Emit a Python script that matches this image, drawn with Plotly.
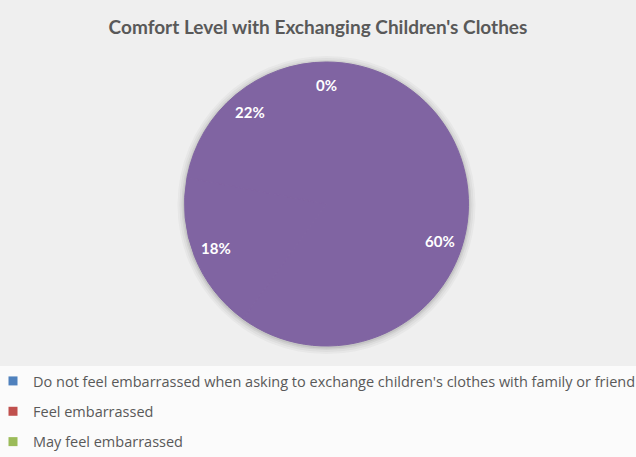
import math
import plotly.graph_objects as go

# Survey answers and their shares (percent), in the order they are drawn
categories = [
    "Do not feel embarrassed when asking to exchange children's clothes with family or friend",
    "Feel embarrassed",
    "May feel embarrassed",
    "Other",
]
shares = [60, 18, 22, 0]
legend_colors = ["#4F81BD", "#C0504D", "#9BBB59"]
slice_color = "#8064A2"

W, H = 636, 457
# pie geometry in pixels (centre and radius)
cx, cy, r = 326.5, 204, 142
label_radius = 0.84

fig = go.Figure()

fig.add_trace(go.Pie(
    labels=categories,
    values=shares,
    sort=False,
    direction="clockwise",
    rotation=0,
    textinfo="none",
    hoverinfo="label+percent",
    marker=dict(colors=[slice_color] * len(shares),
                line=dict(color=slice_color, width=1)),
    domain=dict(x=[(cx - r) / W, (cx + r) / W],
                y=[1 - (cy + r) / H, 1 - (cy - r) / H]),
    showlegend=False,
))

# legend entries for the three answer groups
for i, (name, col) in enumerate(zip(categories[:3], legend_colors)):
    fig.add_trace(go.Scatter(
        x=[None], y=[None], mode="markers", name=name,
        legendgroup=f"g{i}",
        marker=dict(symbol="square", size=9, color=col),
    ))

# percentage labels placed at the middle angle of each slice
annotations = []
total = sum(shares)
start = 0.0
for v in shares:
    sweep = 360.0 * v / total
    mid = math.radians(start + sweep / 2)
    px = cx + label_radius * r * math.sin(mid)
    py = cy - label_radius * r * math.cos(mid)
    annotations.append(dict(
        x=px / W, y=1 - py / H, xref="paper", yref="paper",
        xanchor="center", yanchor="middle",
        text=f"{v:.0f}%", showarrow=False,
        font=dict(family="Lato", size=15, color="white", weight="bold"),
    ))
    start += sweep

# background panel and soft shadow around the pie
shapes = [dict(type="rect", xref="paper", yref="paper",
               x0=0, x1=1, y0=1 - 366 / H, y1=1,
               fillcolor="#efefef", line=dict(width=0), layer="below")]
for d, op in [(7, 0.04), (5, 0.05), (3, 0.07), (1.5, 0.09)]:
    shapes.append(dict(type="circle", xref="paper", yref="paper",
                       x0=(cx - r - d) / W, x1=(cx + r + d) / W,
                       y0=1 - (cy + r + d + 1) / H, y1=1 - (cy - r - d + 1) / H,
                       fillcolor=f"rgba(60,60,60,{op})", line=dict(width=0),
                       layer="below"))

fig.update_layout(
    width=W, height=H,
    margin=dict(l=0, r=0, t=0, b=0, autoexpand=False),
    paper_bgcolor="#fbfbfb",
    plot_bgcolor="rgba(0,0,0,0)",
    title=dict(text="Comfort Level with Exchanging Children's Clothes",
               x=0.5, xanchor="center", y=1 - 27 / H, yanchor="middle",
               yref="container",
               font=dict(family="Lato", size=19, color="#595959", weight="bold")),
    xaxis=dict(visible=False),
    yaxis=dict(visible=False),
    legend=dict(x=-0.011, xanchor="left", y=1 - 365 / H, yanchor="top",
                orientation="v", traceorder="grouped", tracegroupgap=8.5,
                bgcolor="rgba(0,0,0,0)",
                font=dict(family="Open Sans", size=14.5, color="#595959")),
    annotations=annotations,
    shapes=shapes,
)

fig.write_html("out.html")
